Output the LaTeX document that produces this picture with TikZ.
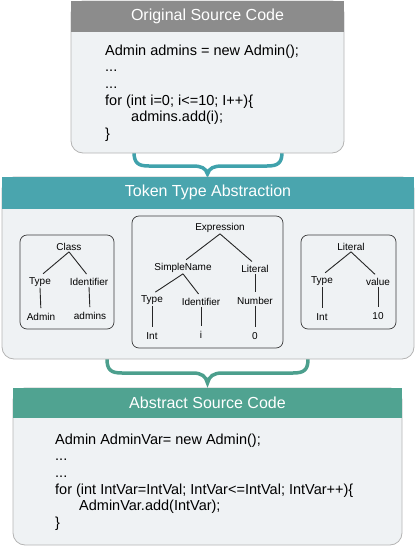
\documentclass[tikz,border=0pt]{standalone}
\usepackage{fontspec}
\setmainfont{Liberation Sans}
\definecolor{headgray}{HTML}{8C8C8C}
\definecolor{headteal}{HTML}{4AA5AE}
\definecolor{headgreen}{HTML}{50A391}
\definecolor{boxfill}{HTML}{EFF2F4}
\definecolor{boxline}{HTML}{B4B4B4}
\definecolor{treeline}{HTML}{3C3C3C}
\definecolor{braceteal}{HTML}{40A2AC}
\definecolor{bracegreen}{HTML}{4C9F8D}
\begin{document}
\begin{tikzpicture}[x=1pt,y=-1pt,
	outerbox/.style={draw=boxline,fill=boxfill,line width=0.8pt,rounded corners=12pt},
	headbar/.style={inner sep=0pt,text=white,font=\fontsize{16}{19}\selectfont},
	codetext/.style={anchor=north west,inner sep=0pt,align=left,font=\fontsize{14.5}{16.6}\selectfont},
	treebox/.style={draw=treeline,rounded corners=7pt,line width=0.7pt},
	leaf/.style={inner sep=1pt,font=\fontsize{10}{12}\selectfont},
	branch/.style={line width=0.9pt,draw=black!85,shorten >=4pt},
	bracket/.style={line width=3.5pt,line cap=round}]
	
	\useasboundingbox (0,0) rectangle (415,547);
	
	% Braces between the three stages
	\coordinate (braceOneL) at (134,152);
	\coordinate (braceOneTip) at (207.5,174);
	\coordinate (braceOneR) at (282,152);
	\draw[bracket,braceteal] (braceOneL) .. controls (134,163) and (138,166) .. (149,166)
	-- (193,166) .. controls (201,166) and (206,168) .. (braceOneTip)
	.. controls (209,168) and (214,166) .. (222,166)
	-- (267,166) .. controls (278,166) and (282,163) .. (braceOneR);
	
	\coordinate (braceTwoL) at (107,359);
	\coordinate (braceTwoTip) at (207.5,383);
	\coordinate (braceTwoR) at (308,359);
	\draw[bracket,bracegreen] (braceTwoL) .. controls (107,370) and (111,373) .. (122,373)
	-- (193,373) .. controls (201,373) and (206,376) .. (braceTwoTip)
	.. controls (209,376) and (214,373) .. (222,373)
	-- (293,373) .. controls (304,373) and (308,370) .. (braceTwoR);
	
	% Original source code
	\node[outerbox,minimum width=273pt,minimum height=152pt] (orig) at (207.5,77) {};
	\node[headbar,fill=headgray,minimum width=273pt,minimum height=31pt,anchor=north] (origTitle) at (orig.north) {Original Source Code};
	\node[codetext] (origCode) at (105,44.5) {Admin admins = new Admin();\\
		...\\
		...\\
		for (int i=0; i<=10; I++)\{\\
		\hspace*{26pt}admins.add(i);\\
		\}};
	
	% Token type abstraction
	\node[outerbox,minimum width=412pt,minimum height=182pt] (abstr) at (208,268) {};
	\node[headbar,fill=headteal,minimum width=412pt,minimum height=32pt,anchor=north] (abstrTitle) at (abstr.north) {Token Type Abstraction};
	
	\node[treebox,minimum width=94pt,minimum height=94pt] (leftTree) at (67,282) {};
	\node[treebox,minimum width=151pt,minimum height=132pt] (midTree) at (207.5,282) {};
	\node[treebox,minimum width=95pt,minimum height=94pt] (rightTree) at (348.5,282) {};
	
	\node[leaf] (cls) at (69,247) {Class};
	\node[leaf] (clsType) at (40,282) {Type};
	\node[leaf] (clsId) at (89,282) {Identifier};
	\node[leaf] (clsAdmin) at (41,317) {Admin};
	\node[leaf] (clsVar) at (90,316) {admins};
	\draw[branch] (cls.south) -- (clsType.north);
	\draw[branch] (cls.south) -- (clsId.north);
	\draw[branch] (clsType.south) -- (clsAdmin.north);
	\draw[branch] (clsId.south) -- (clsVar.north);
	
	\node[leaf] (expr) at (220,228) {Expression};
	\node[leaf] (sname) at (183,268) {SimpleName};
	\node[leaf] (exLit) at (255,269) {Literal};
	\node[leaf] (snType) at (152,300) {Type};
	\node[leaf] (snId) at (201,302) {Identifier};
	\node[leaf] (exNum) at (255,301) {Number};
	\node[leaf] (snInt) at (152,336) {Int};
	\node[leaf] (snVar) at (201,335) {i};
	\node[leaf] (exZero) at (255,336) {0};
	\draw[branch] (expr.south) -- (sname.north);
	\draw[branch] (expr.south) -- (exLit.north);
	\draw[branch] (sname.south) -- (snType.north);
	\draw[branch] (sname.south) -- (snId.north);
	\draw[branch] (exLit.south) -- (exNum.north);
	\draw[branch] (snType.south) -- (snInt.north);
	\draw[branch] (snId.south) -- (snVar.north);
	\draw[branch] (exNum.south) -- (exZero.north);
	
	\node[leaf] (lit) at (351,247) {Literal};
	\node[leaf] (litType) at (322,281) {Type};
	\node[leaf] (litVal) at (378,282) {value};
	\node[leaf] (litInt) at (322,317) {Int};
	\node[leaf] (litTen) at (378,316) {10};
	\draw[branch] (lit.south) -- (litType.north);
	\draw[branch] (lit.south) -- (litVal.north);
	\draw[branch] (litType.south) -- (litInt.north);
	\draw[branch] (litVal.south) -- (litTen.north);
	
	% Abstract source code
	\node[outerbox,minimum width=389pt,minimum height=157pt] (abs) at (207.5,466.5) {};
	\node[headbar,fill=headgreen,minimum width=389pt,minimum height=30pt,anchor=north] (absTitle) at (abs.north) {Abstract Source Code};
	\node[codetext] (absCode) at (55,433.5) {Admin AdminVar= new Admin();\\
		...\\
		...\\
		for (int IntVar=IntVal; IntVar<=IntVal; IntVar++)\{\\
		\hspace*{24pt}AdminVar.add(IntVar);\\
		\}};
	
\end{tikzpicture}
\end{document}
